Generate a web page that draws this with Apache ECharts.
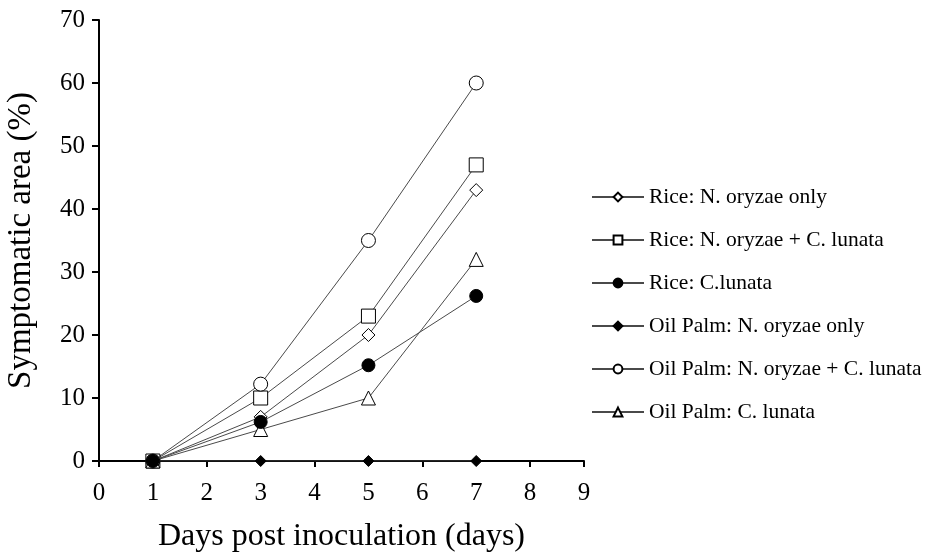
<!DOCTYPE html>
<html lang="en">
<head>
<meta charset="utf-8">
<title>Symptomatic area</title>
<script src="https://cdn.jsdelivr.net/npm/echarts@6/dist/echarts.min.js"></script>
<style>
  html, body { margin: 0; padding: 0; background: #fff; }
  #chart { width: 928px; height: 556px; }
</style>
</head>
<body>
<div id="chart"></div>
<script type="text/javascript">
// days post inoculation
var days = [1, 3, 5, 7];

// symptomatic area (%)
var riceNoOnly = [0, 7, 20, 43];
var riceNoCl = [0, 10, 23, 47];
var riceCl = [0, 6.2, 15.2, 26.2];
var palmNoOnly = [0, 0, 0, 0];
var palmNoCl = [0, 12.2, 35, 60];
var palmCl = [0, 5, 10, 32];

var names = [
  'Rice: N. oryzae only',
  'Rice: N. oryzae + C. lunata',
  'Rice: C.lunata',
  'Oil Palm: N. oryzae only',
  'Oil Palm: N. oryzae + C. lunata',
  'Oil Palm: C. lunata'
];

var font = '"Liberation Serif", "Times New Roman", serif';

function pairs(vals) {
  var out = [];
  for (var i = 0; i < days.length; i++) {
    out.push([days[i], vals[i]]);
  }
  return out;
}

function mkSeries(name, vals, symbol, size, fill, z) {
  return {
    name: name,
    type: 'line',
    data: pairs(vals),
    symbol: symbol,
    symbolSize: size,
    showAllSymbol: true,
    lineStyle: { color: '#4a4a4a', width: 1 },
    itemStyle: { color: fill, borderColor: '#000', borderWidth: 1 },
    emphasis: { disabled: true },
    z: z
  };
}

var myChart = echarts.init(document.getElementById('chart'));
var option = {
  backgroundColor: '#fff',
  animation: false,
  textStyle: { fontFamily: font, color: '#000' },
  grid: { left: 99, right: 344, top: 20, bottom: 95, containLabel: false, outerBoundsMode: 'none' },
  legend: {
    orient: 'vertical',
    left: 586,
    top: 181,
    itemWidth: 52,
    itemHeight: 11,
    itemGap: 21,
    data: names,
    textStyle: { fontFamily: font, fontSize: 21.5, color: '#000' },
    selectedMode: false
  },
  xAxis: [{
    type: 'value',
    min: 0,
    max: 9,
    interval: 1,
    name: 'Days post inoculation (days)',
    nameLocation: 'middle',
    nameGap: 60,
    nameTextStyle: { fontFamily: font, fontSize: 32, color: '#000' },
    axisLine: { lineStyle: { color: '#000', width: 2 } },
    axisTick: { show: false },
    axisLabel: { fontFamily: font, fontSize: 25, color: '#000', margin: 20 },
    splitLine: { show: false }
  }, {
    type: 'value',
    position: 'bottom',
    min: 0,
    max: 9,
    interval: 2,
    axisLine: { show: false },
    axisTick: { show: true, inside: false, length: 6, lineStyle: { color: '#000', width: 2 } },
    axisLabel: { show: false },
    splitLine: { show: false }
  }],
  yAxis: {
    type: 'value',
    min: 0,
    max: 70,
    interval: 10,
    name: 'Symptomatic area (%)',
    nameLocation: 'middle',
    nameGap: 61,
    nameTextStyle: { fontFamily: font, fontSize: 33, color: '#000' },
    axisLine: { show: true, lineStyle: { color: '#000', width: 2 } },
    axisTick: { show: true, inside: false, length: 7, lineStyle: { color: '#000', width: 2 } },
    axisLabel: { fontFamily: font, fontSize: 25, color: '#000', margin: 14 },
    splitLine: { show: false }
  },
  series: [
    mkSeries(names[0], riceNoOnly, 'diamond', 13, '#fff', 3),
    mkSeries(names[1], riceNoCl, 'rect', 14, '#fff', 3),
    mkSeries(names[2], riceCl, 'circle', 13, '#000', 4),
    mkSeries(names[3], palmNoOnly, 'diamond', 11, '#000', 4),
    mkSeries(names[4], palmNoCl, 'circle', 14, '#fff', 3),
    mkSeries(names[5], palmCl, 'triangle', 14, '#fff', 3)
  ]
};
if (option && typeof option === 'object') {
  myChart.setOption(option);
}
</script>
</body>
</html>
